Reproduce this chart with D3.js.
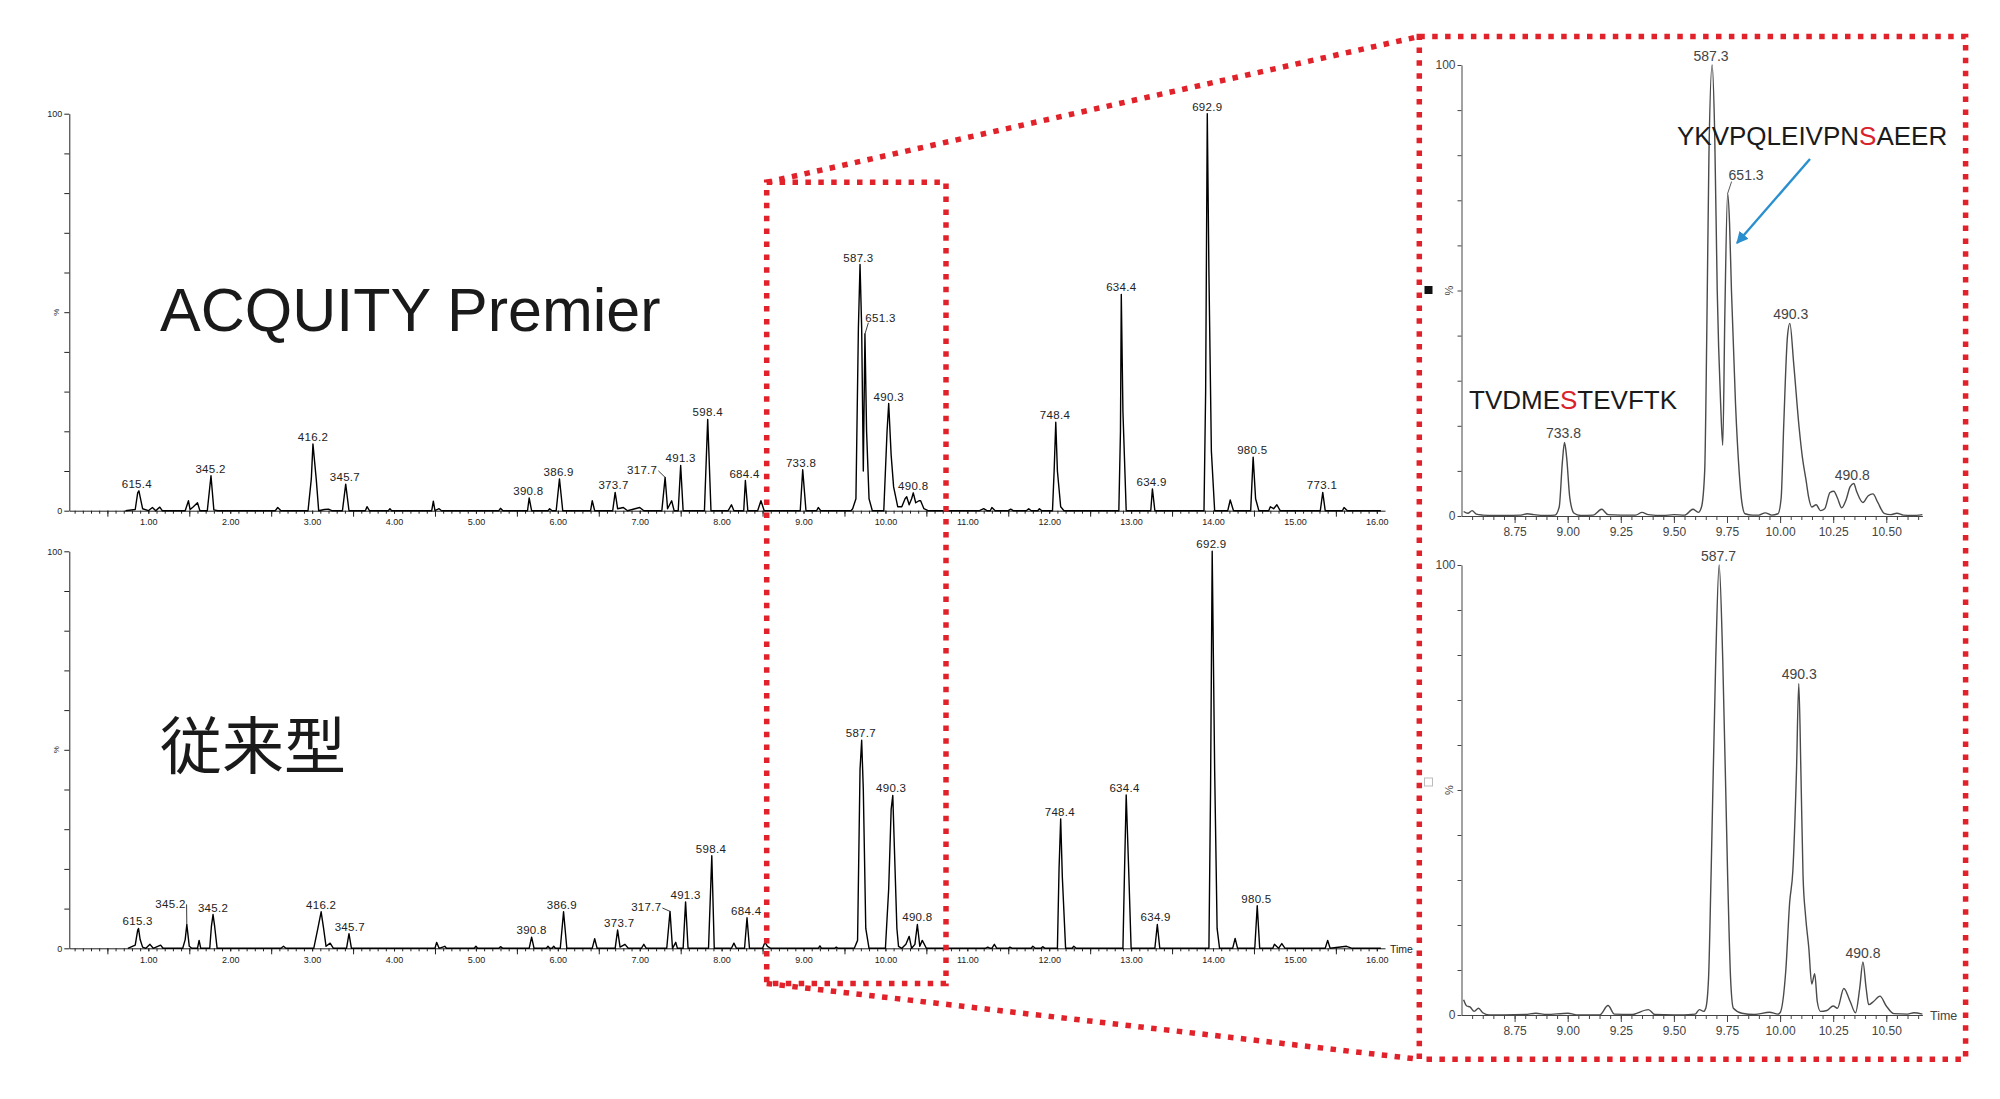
<!DOCTYPE html>
<html lang="ja">

<head>
    <meta charset="UTF-8">
    <title>ACQUITY Premier vs 従来型</title>
    <script type='text/javascript' src='https://cdn.jsdelivr.net/npm/d3@7'></script>
    <style>
        body { margin: 0; background: #fff; }
        svg text { font-family: "Liberation Sans", Arial, sans-serif; }
    </style>
</head>

<body>
    <svg width='2000' height='1099'></svg>
    <script type='text/javascript'>
        // ---- data: [time (min), intensity (%)] ----
        // ACQUITY Premier, full run
        const premierTrace = [
            [0.72, 0], [0.84, 0.3], [0.87, 4.5], [0.885, 5.0], [0.9, 3.5], [0.93, 0.5], [1.0, 0], [1.05, 0.8], [1.09, 0], [1.14, 0.9], [1.17, 0],
            [1.45, 0], [1.49, 2.5], [1.51, 0.3], [1.55, 1.0], [1.6, 2.0], [1.63, 0],
            [1.72, 0], [1.765, 8.8], [1.8, 0.2], [1.85, 0],
            [2.55, 0], [2.58, 0.8], [2.62, 0],
            [2.95, 0], [2.99, 8], [3.01, 16.8], [3.05, 8], [3.08, 0], [3.15, 0.3], [3.2, 0.4], [3.24, 0],
            [3.37, 0], [3.41, 6.7], [3.45, 0],
            [3.65, 0], [3.67, 1], [3.7, 0], [3.93, 0], [3.95, 0.5], [3.97, 0],
            [4.46, 0], [4.48, 2.4], [4.5, 0], [4.55, 0.5], [4.58, 0],
            [5.28, 0], [5.3, 0.6], [5.33, 0], [5.63, 0], [5.65, 3.2], [5.68, 0],
            [5.88, 0], [5.9, 0.5], [5.93, 0], [5.98, 0], [6.02, 8.0], [6.06, 0],
            [6.4, 0], [6.42, 2.5], [6.45, 0],
            [6.67, 0], [6.70, 4.6], [6.73, 0.5], [6.8, 0.8], [6.85, 0], [7.0, 0.8], [7.05, 0],
            [7.27, 0], [7.31, 8.4], [7.34, 0.5], [7.39, 2.5], [7.42, 0], [7.47, 0], [7.50, 11.4], [7.53, 0],
            [7.79, 0], [7.83, 23], [7.87, 0],
            [8.08, 0], [8.12, 1.5], [8.15, 0],
            [8.27, 0], [8.29, 7.6], [8.32, 0],
            [8.44, 0], [8.48, 2.5], [8.52, 0],
            [8.96, 0], [8.99, 10.3], [9.03, 0], [9.16, 0], [9.18, 0.8], [9.21, 0],
            [9.58, 0], [9.6, 0.5], [9.64, 3], [9.67, 46], [9.69, 62], [9.71, 46], [9.73, 10], [9.75, 44.5], [9.77, 20], [9.8, 3], [9.84, 0],
            [9.98, 0], [10.02, 20], [10.04, 27], [10.07, 14], [10.1, 6], [10.15, 1], [10.2, 1], [10.24, 3], [10.26, 3.5], [10.29, 1.5],
            [10.32, 3], [10.34, 4.5], [10.37, 2], [10.41, 2.5], [10.43, 2.5], [10.47, 0.5], [10.52, 0],
            [11.15, 0], [11.2, 0.5], [11.24, 0], [11.28, 0], [11.3, 0.8], [11.34, 0], [11.5, 0], [11.53, 0.4], [11.56, 0],
            [11.72, 0], [11.75, 0.5], [11.78, 0], [11.86, 0], [11.88, 0.5], [11.91, 0],
            [12.04, 0], [12.06, 10], [12.08, 22.3], [12.1, 10], [12.14, 1], [12.18, 0],
            [12.85, 0], [12.87, 20], [12.88, 54.5], [12.9, 25], [12.94, 0],
            [13.24, 0], [13.26, 5.5], [13.29, 0],
            [13.89, 0], [13.91, 30], [13.93, 100], [13.95, 60], [13.98, 15], [14.02, 0],
            [14.18, 0], [14.21, 2.7], [14.25, 0],
            [14.46, 0], [14.49, 13.5], [14.52, 3], [14.56, 0],
            [14.68, 0], [14.7, 1], [14.74, 0.5], [14.78, 1.5], [14.82, 0],
            [15.31, 0], [15.34, 4.6], [15.37, 0], [15.58, 0], [15.6, 0.8], [15.64, 0], [16.05, 0]
        ]
        // 従来型, full run
        const conventionalTrace = [
            [0.75, 0], [0.84, 0.8], [0.87, 4.6], [0.88, 5.0], [0.9, 2.2], [0.93, 0.3], [0.97, 0], [1.02, 1.0], [1.06, 0], [1.15, 0.8], [1.18, 0],
            [1.42, 0], [1.45, 2.2], [1.47, 6.0], [1.5, 0.5], [1.53, 0],
            [1.6, 0], [1.62, 2.0], [1.64, 0],
            [1.75, 0], [1.77, 5.5], [1.79, 8.5], [1.81, 5.5], [1.84, 0],
            [2.62, 0], [2.65, 0.5], [2.68, 0],
            [3.02, 0], [3.07, 5], [3.11, 9.2], [3.14, 5], [3.17, 0.5], [3.22, 1.3], [3.26, 0],
            [3.42, 0], [3.45, 3.7], [3.48, 0],
            [4.5, 0], [4.52, 1.5], [4.55, 0], [4.62, 0.5], [4.64, 0], [4.98, 0], [5.0, 0.5], [5.02, 0], [5.28, 0], [5.3, 0.4], [5.33, 0],
            [5.65, 0], [5.68, 2.8], [5.71, 0],
            [5.86, 0], [5.88, 0.5], [5.9, 0], [5.93, 0], [5.95, 0.5], [5.97, 0], [6.03, 0], [6.07, 9.2], [6.11, 0],
            [6.42, 0], [6.45, 2.4], [6.48, 0],
            [6.7, 0], [6.73, 4.6], [6.76, 0.3], [6.82, 1.0], [6.86, 0], [7.02, 0], [7.05, 1], [7.08, 0],
            [7.33, 0], [7.37, 9.3], [7.4, 0], [7.44, 1.5], [7.46, 0],
            [7.53, 0], [7.56, 11.7], [7.59, 0],
            [7.84, 0], [7.88, 23.3], [7.91, 0],
            [8.12, 0], [8.15, 1.3], [8.18, 0],
            [8.28, 0], [8.31, 7.7], [8.34, 0],
            [8.5, 0], [8.53, 1.5], [8.56, 0.5], [8.6, 0],
            [9.18, 0], [9.2, 0.6], [9.22, 0], [9.38, 0], [9.4, 0.3], [9.42, 0],
            [9.62, 0], [9.66, 2], [9.69, 45], [9.71, 52.4], [9.73, 40], [9.76, 5], [9.8, 0],
            [10.0, 0], [10.04, 15], [10.07, 35], [10.09, 38.5], [10.11, 25], [10.14, 5], [10.16, 0.5], [10.2, 0],
            [10.25, 1], [10.29, 3], [10.32, 0], [10.36, 1], [10.39, 6], [10.42, 0.5], [10.45, 2], [10.5, 0],
            [11.22, 0], [11.25, 0.3], [11.28, 0], [11.3, 0], [11.33, 1], [11.36, 0], [11.5, 0], [11.52, 0.3], [11.55, 0],
            [11.78, 0], [11.8, 0.5], [11.83, 0], [11.9, 0], [11.92, 0.4], [11.95, 0],
            [12.1, 0], [12.12, 20], [12.14, 32.6], [12.16, 18], [12.2, 0], [12.28, 0], [12.3, 0.5], [12.33, 0],
            [12.9, 0], [12.92, 20], [12.94, 38.6], [12.97, 20], [13.0, 0],
            [13.29, 0], [13.32, 6], [13.35, 0],
            [13.95, 0], [13.97, 40], [13.99, 100], [14.02, 45], [14.05, 5], [14.08, 0],
            [14.24, 0], [14.27, 2.5], [14.3, 0],
            [14.51, 0], [14.54, 10.7], [14.57, 0],
            [14.73, 0], [14.75, 1], [14.8, 0], [14.84, 1.2], [14.88, 0],
            [15.37, 0], [15.4, 2], [15.43, 0], [15.63, 0.5], [15.7, 0], [16.05, 0]
        ]
        // zoomed window 8.5 - 10.67 min
        const premierZoom = [
            [8.51, 1.0], [8.53, 0.6], [8.55, 1.2], [8.57, 0.4], [8.6, 0.2], [8.65, 0.1], [8.7, 0.1], [8.78, 0.2], [8.81, 0.5], [8.84, 0.3],
            [8.9, 0.1], [8.94, 0.2], [8.96, 2], [8.975, 12], [8.985, 16.3], [8.995, 13], [9.01, 4], [9.03, 0.6], [9.06, 0.1], [9.12, 0.2],
            [9.16, 1.5], [9.19, 0.3], [9.25, 0.2], [9.32, 0.2], [9.35, 0.8], [9.38, 0.3], [9.45, 0.1], [9.5, 0.3], [9.55, 0.2], [9.59, 1.5],
            [9.615, 0.8], [9.63, 2], [9.645, 10], [9.655, 41], [9.665, 80], [9.68, 100], [9.692, 85], [9.704, 50], [9.72, 25], [9.73, 15.7],
            [9.74, 45], [9.753, 71.5], [9.762, 65], [9.771, 50], [9.79, 25], [9.807, 10], [9.82, 3], [9.835, 0.5],
            [9.87, 0.2], [9.9, 0.2], [9.93, 0.7], [9.96, 0.2], [9.99, 0.5], [10.005, 4], [10.017, 20], [10.035, 40], [10.046, 42.7],
            [10.064, 33.8], [10.09, 19.4], [10.105, 13], [10.122, 8], [10.135, 4], [10.149, 2], [10.17, 2.5], [10.19, 1.2], [10.21, 1.6],
            [10.235, 5.2], [10.253, 5.5], [10.27, 4], [10.29, 1.8], [10.31, 3.5], [10.33, 6.5], [10.347, 7.2], [10.36, 5.5], [10.39, 3],
            [10.415, 4.5], [10.437, 4.9], [10.46, 3], [10.49, 0.6], [10.52, 0.3], [10.55, 0.6], [10.58, 0.2], [10.62, 0.1], [10.67, 0.3]
        ]
        const conventionalZoom = [
            [8.51, 3.4], [8.525, 2], [8.54, 1.8], [8.56, 0.8], [8.58, 1.5], [8.6, 0.5], [8.63, 0], [8.7, 0], [8.8, 0.1], [8.85, 0.4],
            [8.9, 0.1], [9.0, 0.4], [9.05, 0], [9.15, 0], [9.19, 2.1], [9.22, 0.2], [9.3, 0.1], [9.38, 1.2], [9.41, 0.1], [9.5, 0],
            [9.6, 0.2], [9.62, 1.2], [9.64, 0.8], [9.65, 1.5], [9.663, 8], [9.675, 31], [9.697, 79], [9.713, 100], [9.73, 79],
            [9.753, 31], [9.767, 8], [9.78, 1.5], [9.82, 0.4], [9.88, 0.1], [9.95, 0.6], [9.99, 0.2], [10.0, 0.5], [10.027, 10],
            [10.045, 25], [10.06, 32], [10.077, 54], [10.088, 73.7], [10.098, 54], [10.108, 31], [10.12, 22], [10.135, 15], [10.149, 6.9],
            [10.163, 9.2], [10.175, 3], [10.19, 0.8], [10.22, 1], [10.25, 2], [10.27, 1.5], [10.30, 5.9], [10.33, 3], [10.355, 0.5],
            [10.375, 6], [10.39, 11.8], [10.405, 6], [10.417, 2.3], [10.44, 3], [10.47, 4.2], [10.5, 2], [10.536, 0.3], [10.6, 0.2],
            [10.63, 0.5], [10.67, 0.2]
        ]

        // peak labels: [text, apex time, apex %, label time, label baseline % (null = just above apex)]
        const premierLabels = [
            ['615.4', 0.885, 5.0, 0.86, null], ['345.2', 1.765, 8.8, 1.76, null], ['416.2', 3.01, 16.8, 3.01, null],
            ['345.7', 3.41, 6.7, 3.40, null], ['390.8', 5.65, 3.2, 5.64, null], ['386.9', 6.02, 8.0, 6.01, null],
            ['373.7', 6.70, 4.6, 6.68, null], ['317.7', 7.31, 8.4, 7.03, 9.2], ['491.3', 7.50, 11.4, 7.50, null],
            ['598.4', 7.83, 23, 7.83, null], ['684.4', 8.29, 7.6, 8.28, null], ['733.8', 8.99, 10.3, 8.97, null],
            ['587.3', 9.69, 62, 9.67, null], ['651.3', 9.75, 44.5, 9.94, 47.6], ['490.3', 10.04, 27, 10.04, null],
            ['490.8', 10.34, 4.5, 10.34, null], ['748.4', 12.08, 22.3, 12.07, null], ['634.4', 12.88, 54.5, 12.88, null],
            ['634.9', 13.26, 5.5, 13.25, null], ['692.9', 13.93, 100, 13.93, null], ['980.5', 14.49, 13.5, 14.48, null],
            ['773.1', 15.34, 4.6, 15.33, null]
        ]
        const conventionalLabels = [
            ['615.3', 0.88, 5.0, 0.87, null], ['345.2', 1.47, 6.0, 1.27, 10.2], ['345.2', 1.79, 8.5, 1.79, null],
            ['416.2', 3.11, 9.2, 3.11, null], ['345.7', 3.45, 3.7, 3.46, null], ['390.8', 5.68, 2.8, 5.68, null],
            ['386.9', 6.07, 9.2, 6.05, null], ['373.7', 6.73, 4.6, 6.75, null], ['317.7', 7.37, 9.3, 7.08, 9.3],
            ['491.3', 7.56, 11.7, 7.56, null], ['598.4', 7.88, 23.3, 7.87, null], ['684.4', 8.31, 7.7, 8.30, null],
            ['587.7', 9.71, 52.4, 9.70, null], ['490.3', 10.09, 38.5, 10.07, null], ['490.8', 10.39, 6, 10.39, null],
            ['748.4', 12.14, 32.6, 12.13, null], ['634.4', 12.94, 38.6, 12.92, null], ['634.9', 13.32, 6, 13.30, null],
            ['692.9', 13.99, 100, 13.98, null], ['980.5', 14.54, 10.7, 14.53, null]
        ]
        const premierZoomLabels = [
            ['733.8', 8.985, 16.3, 8.98, null], ['587.3', 9.68, 100, 9.675, null], ['651.3', 9.753, 71.5, 9.84, 74.6],
            ['490.3', 10.046, 42.7, 10.05, null], ['490.8', 10.347, 7.2, 10.34, null]
        ]
        const conventionalZoomLabels = [
            ['587.7', 9.713, 100, 9.71, null], ['490.3', 10.088, 73.7, 10.09, null], ['490.8', 10.39, 11.8, 10.39, null]
        ]

        // axis tick values
        const mainMinorTicks = d3.range(1, 161).map(d => d / 10)
        const mainHalfTicks = d3.range(0, 16).map(d => d + 0.5)
        const mainLabelTicks = d3.range(1, 17)
        const zoomMinorTicks = d3.range(171, 214).map(d => d / 20)
        const zoomLabelTicks = [8.75, 9.00, 9.25, 9.50, 9.75, 10.00, 10.25, 10.50]
        const yTicks = d3.range(0, 101, 10)

        const svg = d3.select('svg')
        svg.append('rect').attr('width', 2000).attr('height', 1099).attr('fill', '#fff')

        // one chromatogram panel
        function panel(opt) {
            const x = d3.scaleLinear().domain(opt.xDomain).range(opt.xRange)
            const y = d3.scaleLinear().domain([0, 100]).range([opt.y0, opt.y100])
            const g = svg.append('g')

            // x axis: minor ticks carry the domain line
            const xa = g.append('g').attr('transform', `translate(0,${opt.y0})`)
                .call(d3.axisBottom(x).tickValues(opt.minor).tickSize(opt.minorLen).tickSizeOuter(0).tickFormat(''))
            xa.select('.domain').attr('stroke', opt.axisColor)
            xa.selectAll('line').attr('stroke', opt.axisColor)
            if (opt.half) {
                const xh = g.append('g').attr('transform', `translate(0,${opt.y0})`)
                    .call(d3.axisBottom(x).tickValues(opt.half).tickSize(opt.majorLen).tickFormat(''))
                xh.select('.domain').remove()
                xh.selectAll('line').attr('stroke', opt.axisColor)
            }
            const xl = g.append('g').attr('transform', `translate(0,${opt.y0})`)
                .call(d3.axisBottom(x).tickValues(opt.labels).tickSize(opt.labelTickLen)
                    .tickPadding(opt.xPad).tickFormat(d3.format('.2f')))
            xl.select('.domain').remove()
            xl.selectAll('line').attr('stroke', opt.axisColor)
            xl.selectAll('text').attr('font-size', opt.tickFont).attr('fill', opt.textColor)
                .attr('font-family', '"Liberation Sans", Arial, sans-serif')

            // y axis
            const ya = g.append('g').attr('transform', `translate(${opt.xRange[0]},0)`)
                .call(d3.axisLeft(y).tickValues(yTicks).tickSize(opt.yTickLen).tickSizeOuter(0).tickPadding(2)
                    .tickFormat(d => d === 100 ? '100' : d === 0 ? '0' : ''))
            ya.select('.domain').attr('stroke', opt.axisColor)
            ya.selectAll('line').attr('stroke', opt.axisColor)
            ya.selectAll('text').attr('font-size', opt.tickFont).attr('fill', opt.textColor)
                .attr('font-family', '"Liberation Sans", Arial, sans-serif')
            g.append('text').text('%')
                .attr('transform', `translate(${opt.xRange[0] - opt.yTickLen - 5},${y(50)}) rotate(-90)`)
                .attr('text-anchor', 'middle').attr('font-size', opt.tickFont - 1).attr('fill', opt.textColor)

            // trace
            g.append('path').datum(opt.trace)
                .attr('d', d3.line().x(d => x(d[0])).y(d => y(d[1])).curve(opt.curve))
                .attr('fill', 'none').attr('stroke', opt.traceColor).attr('stroke-width', opt.traceWidth)
                .attr('stroke-linejoin', 'round')

            // peak labels (with leader line when moved aside)
            opt.peakLabels.forEach(p => {
                const ly = p[4] === null ? y(p[2]) - opt.labelGap : y(p[4])
                const t = g.append('text').text(p[0])
                    .attr('x', x(p[3])).attr('y', ly)
                    .attr('text-anchor', 'middle').attr('font-size', opt.labelFont)
                    .attr('letter-spacing', opt.labelSpacing).attr('fill', opt.textColor)
                if (p[4] !== null) {
                    const b = t.node().getBBox()
                    const sx = p[1] > p[3] ? b.x + b.width + 1 : b.x + 3
                    const sy = p[1] > p[3] ? b.y + b.height * 0.55 : b.y + b.height - 1
                    g.append('line').attr('x1', sx).attr('y1', sy)
                        .attr('x2', x(p[1])).attr('y2', y(p[2]))
                        .attr('stroke', opt.textColor).attr('stroke-width', 0.9)
                }
            })
            return { x, y, g }
        }

        const mainOpt = {
            xDomain: [0.035, 16.1], xRange: [69.3, 1385], minor: mainMinorTicks, half: mainHalfTicks,
            labels: mainLabelTicks, minorLen: 3, majorLen: 6, labelTickLen: 3, xPad: 5, yTickLen: 5,
            tickFont: 9, labelFont: 11.5, labelSpacing: 0.3, labelGap: 3, axisColor: '#222', textColor: '#222',
            traceColor: '#000', traceWidth: 1.4, curve: d3.curveLinear
        }
        panel(Object.assign({}, mainOpt, { y0: 510.7, y100: 113.7, trace: premierTrace, peakLabels: premierLabels }))
        const bottomMain = panel(Object.assign({}, mainOpt, { y0: 948.3, y100: 551.3, trace: conventionalTrace, peakLabels: conventionalLabels }))
        bottomMain.g.append('text').text('Time').attr('x', 1390).attr('y', 952.5)
            .attr('font-size', 10.5).attr('fill', '#222')

        const zoomOpt = {
            xDomain: [8.5, 10.67], xRange: [1461.5, 1922.4], minor: zoomMinorTicks, half: null,
            labels: zoomLabelTicks, minorLen: 4, majorLen: 7, labelTickLen: 7, xPad: 4, yTickLen: 4,
            tickFont: 12, labelFont: 14, labelSpacing: 0, labelGap: 4, axisColor: '#444', textColor: '#444',
            traceColor: '#4a4a4a', traceWidth: 1.4, curve: d3.curveMonotoneX
        }
        panel(Object.assign({}, zoomOpt, { y0: 516, y100: 65, trace: premierZoom, peakLabels: premierZoomLabels }))
        const bottomZoom = panel(Object.assign({}, zoomOpt, { y0: 1015, y100: 565, trace: conventionalZoom, peakLabels: conventionalZoomLabels }))
        bottomZoom.g.append('text').text('Time').attr('x', 1930).attr('y', 1019.5)
            .attr('font-size', 12.5).attr('fill', '#444')

        // little trace markers left of the zoom panels
        svg.append('rect').attr('x', 1424.5).attr('y', 286).attr('width', 8).attr('height', 8).attr('fill', '#111')
        svg.append('rect').attr('x', 1424.5).attr('y', 778).attr('width', 8).attr('height', 8)
            .attr('fill', '#fff').attr('stroke', '#bbb').attr('stroke-width', 1)

        // big titles
        svg.append('text').text('ACQUITY Premier').attr('x', 160).attr('y', 331)
            .attr('font-size', 61).attr('fill', '#1a1a1a')
        svg.append('text').text('従来型').attr('x', 160).attr('y', 769)
            .attr('font-size', 62).attr('fill', '#1a1a1a')
            .style('font-family', '"Noto Sans CJK JP", sans-serif')

        // peptide names, phospho serine in red
        const pep1 = svg.append('text').attr('x', 1469).attr('y', 409).attr('font-size', 26).attr('fill', '#1a1a1a')
        pep1.append('tspan').text('TVDME')
        pep1.append('tspan').text('S').attr('fill', '#d9232b')
        pep1.append('tspan').text('TEVFTK')
        const pep2 = svg.append('text').attr('x', 1677).attr('y', 145).attr('font-size', 26).attr('fill', '#1a1a1a')
        pep2.append('tspan').text('YKVPQLEIVPN')
        pep2.append('tspan').text('S').attr('fill', '#d9232b')
        pep2.append('tspan').text('AEER')

        // blue arrow
        svg.append('defs').append('marker').attr('id', 'arrow')
            .attr('viewBox', '0 0 10 10').attr('refX', 9).attr('refY', 5)
            .attr('markerWidth', 5).attr('markerHeight', 5).attr('orient', 'auto')
            .append('path').attr('d', 'M0,0 L10,5 L0,10 z').attr('fill', '#2a8fcf')
        svg.append('line').attr('x1', 1810).attr('y1', 159).attr('x2', 1737).attr('y2', 243)
            .attr('stroke', '#2a8fcf').attr('stroke-width', 2.4).attr('marker-end', 'url(#arrow)')

        // red dotted zoom boxes
        const red = '#e2222a'
        const dots = '5.5 7.4'
        const boxes = [[766.7, 182.3, 946, 983.5], [1419.3, 36.5, 1965.6, 1059.3]]
        svg.selectAll('rect.zoombox').data(boxes).enter().append('rect').attr('class', 'zoombox')
            .attr('x', d => d[0]).attr('y', d => d[1])
            .attr('width', d => d[2] - d[0]).attr('height', d => d[3] - d[1])
            .attr('fill', 'none').attr('stroke', red).attr('stroke-width', 5.5).attr('stroke-dasharray', dots)
        const links = [[766.7, 182.3, 1419.3, 36.5], [766.7, 983.5, 1419.3, 1059.3]]
        svg.selectAll('line.link').data(links).enter().append('line').attr('class', 'link')
            .attr('x1', d => d[0]).attr('y1', d => d[1]).attr('x2', d => d[2]).attr('y2', d => d[3])
            .attr('stroke', red).attr('stroke-width', 5.5).attr('stroke-dasharray', dots)
    </script>
</body>

</html>
